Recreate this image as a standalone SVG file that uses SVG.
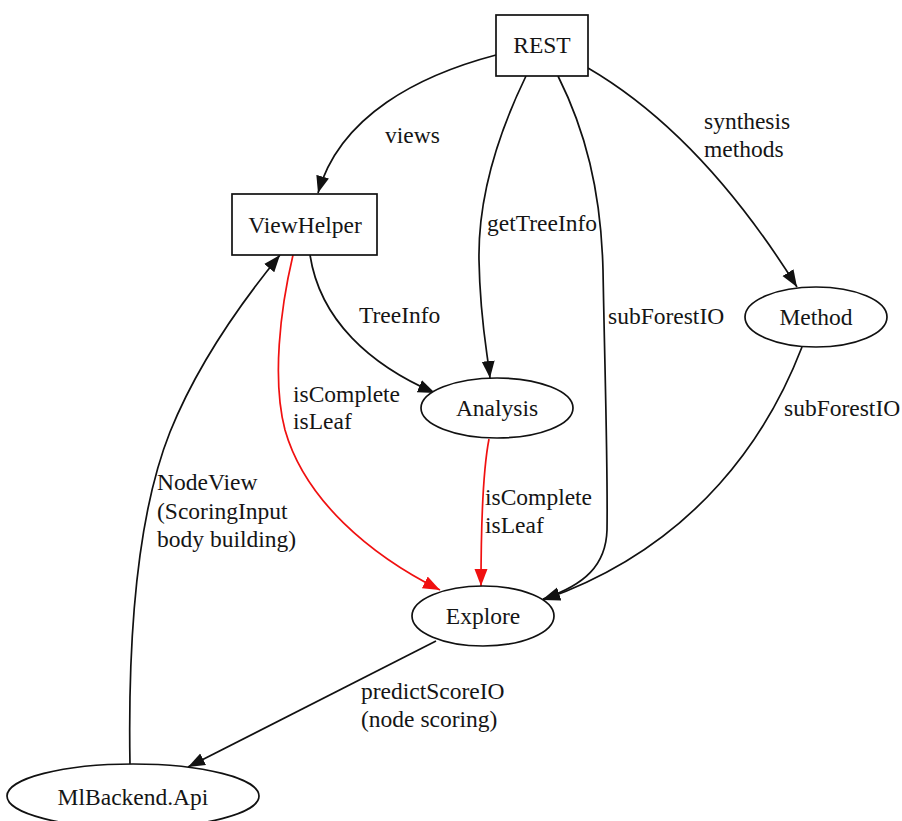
<svg xmlns="http://www.w3.org/2000/svg" width="902" height="821" viewBox="0 0 902 821">
  <style>
    .node { fill: #ffffff; stroke: #111111; stroke-width: 1.7; }
    .edge { fill: none; stroke: #111111; stroke-width: 1.7; }
    .edge.red { stroke: #f01010; }
    text { font-family: "Liberation Serif", "Times New Roman", serif; font-size: 23.5px; fill: #151515; }
    .c { text-anchor: middle; }
  </style>
  <defs>
    <marker id="arrow" markerUnits="userSpaceOnUse" markerWidth="18" markerHeight="14" refX="17" refY="7" orient="auto">
      <path d="M0,0.5 L17,7 L0,13.5 z" fill="#111111"/>
    </marker>
    <marker id="arrow-red" markerUnits="userSpaceOnUse" markerWidth="18" markerHeight="14" refX="17" refY="7" orient="auto">
      <path d="M0,0.5 L17,7 L0,13.5 z" fill="#f01010"/>
    </marker>
  </defs>

  <rect width="902" height="821" fill="#ffffff"/>

  <!-- connectors -->
  <g id="edges">
    <!-- REST -> ViewHelper -->
    <path class="edge" d="M496,55 C420,75 340,115 318,193" marker-end="url(#arrow)"/>
    <text x="385" y="143">views</text>

    <!-- REST -> Analysis -->
    <path class="edge" d="M526,76 C495,140 478,200 479,260 C480,320 487,350 490,378" marker-end="url(#arrow)"/>
    <text x="487" y="231">getTreeInfo</text>

    <!-- REST -> Explore -->
    <path class="edge" d="M558,76 C585,130 601,190 603,270 C605,380 608,470 607,530 C606,565 585,585 543,599" marker-end="url(#arrow)"/>
    <text x="608" y="324">subForestIO</text>

    <!-- REST -> Method -->
    <path class="edge" d="M588,68 C660,110 730,180 797,287" marker-end="url(#arrow)"/>
    <text x="704" y="129">synthesis</text>
    <text x="704" y="157">methods</text>

    <!-- Method -> Explore -->
    <path class="edge" d="M802,347 C770,430 700,545 543,600" marker-end="url(#arrow)"/>
    <text x="784" y="416">subForestIO</text>

    <!-- ViewHelper -> Analysis -->
    <path class="edge" d="M310,255 C320,320 370,365 435,393" marker-end="url(#arrow)"/>
    <text x="359" y="323">TreeInfo</text>

    <!-- ViewHelper -> Explore -->
    <path class="edge red" d="M293,255 C280,310 272,380 285,430 C305,500 370,555 440,590" marker-end="url(#arrow-red)"/>
    <text x="293" y="402">isComplete</text>
    <text x="293" y="429">isLeaf</text>

    <!-- Analysis -> Explore -->
    <path class="edge red" d="M489,439 C483,470 481,520 481,586" marker-end="url(#arrow-red)"/>
    <text x="485" y="505">isComplete</text>
    <text x="485" y="533">isLeaf</text>

    <!-- Explore -> MlBackend.Api -->
    <path class="edge" d="M436,641 L188,767" marker-end="url(#arrow)"/>
    <text x="361" y="699">predictScoreIO</text>
    <text x="361" y="727">(node scoring)</text>

    <!-- MlBackend.Api -> ViewHelper -->
    <path class="edge" d="M130,765 C128,650 135,520 170,432 C195,370 235,310 280,255" marker-end="url(#arrow)"/>
    <text x="157" y="490">NodeView</text>
    <text x="157" y="519">(ScoringInput</text>
    <text x="157" y="547">body building)</text>
  </g>

  <!-- nodes -->
  <g id="REST">
    <rect class="node" x="496" y="15" width="92" height="61"/>
    <text class="c" x="542" y="53">REST</text>
  </g>
  <g id="ViewHelper">
    <rect class="node" x="232" y="194" width="145" height="61"/>
    <text class="c" x="305" y="233">ViewHelper</text>
  </g>
  <g id="Analysis">
    <ellipse class="node" cx="497" cy="408" rx="76" ry="30"/>
    <text class="c" x="497" y="416">Analysis</text>
  </g>
  <g id="Method">
    <ellipse class="node" cx="816" cy="317" rx="71" ry="30"/>
    <text class="c" x="816" y="325">Method</text>
  </g>
  <g id="Explore">
    <ellipse class="node" cx="483" cy="616" rx="71" ry="30"/>
    <text class="c" x="483" y="624">Explore</text>
  </g>
  <g id="MlBackend.Api">
    <ellipse class="node" cx="133" cy="796" rx="126" ry="32"/>
    <text class="c" x="133" y="805">MlBackend.Api</text>
  </g>
</svg>
